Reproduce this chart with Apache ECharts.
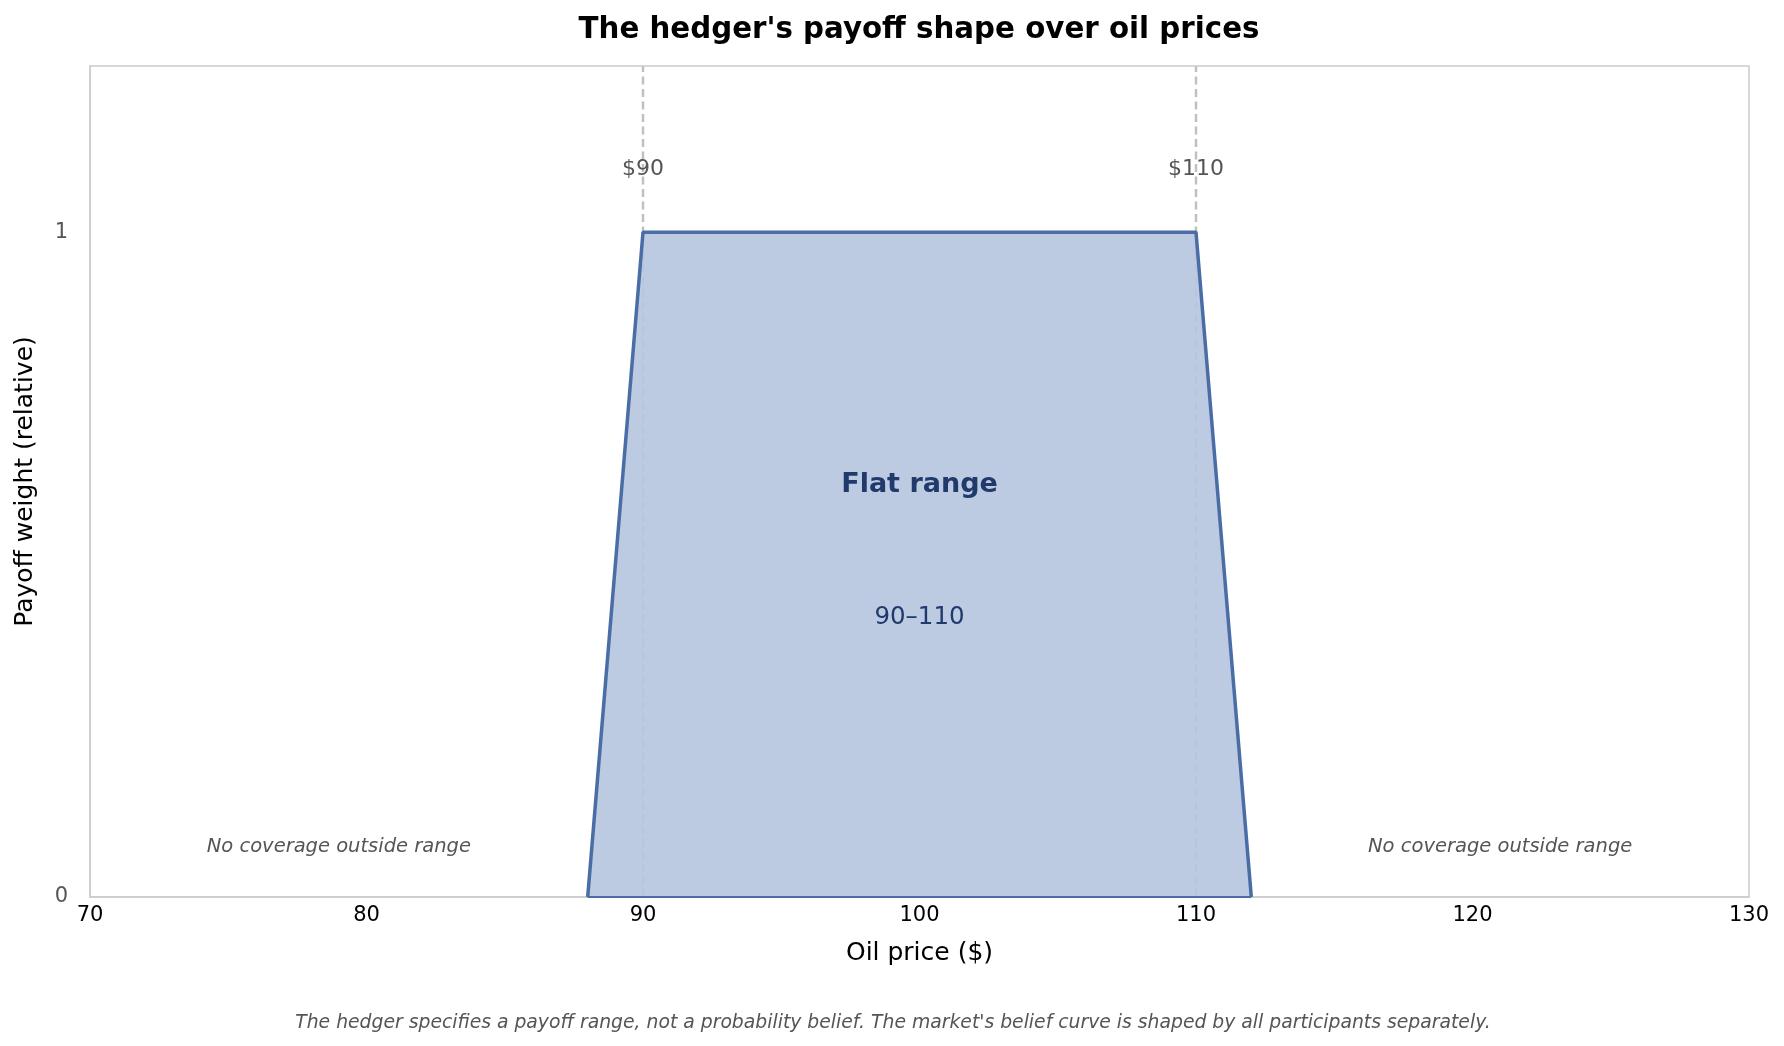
<!DOCTYPE html>
<html>
<head>
<meta charset="utf-8">
<script src="https://cdn.jsdelivr.net/npm/echarts@6/dist/echarts.min.js"></script>
<style>
html,body{margin:0;padding:0;background:#fff;}
#c{width:1784px;height:1046px;}
</style>
</head>
<body>
<div id="c"></div>
<script>
// Data
const payoffX = [88, 90, 110, 112];
const payoffY = [0, 1, 1, 0];
const boundaries = [90, 110];
const boundaryLabels = ['$90', '$110'];
const xTicks = [70, 80, 90, 100, 110, 120, 130];
const yTicks = [0, 1];
const noCoverX = [79, 121];
const noCoverY = 0.075;
const boundaryLabelY = 1.095;

const F = 'DejaVu Sans';
const payoffData = payoffX.map((x, i) => [x, payoffY[i]]);
const bottomEdge = [[payoffX[0], 0], [payoffX[payoffX.length - 1], 0]];

const chart = echarts.init(document.getElementById('c'), null, {renderer: 'canvas'});

const dashSeries = boundaries.map(b => ({
  type: 'line',
  data: [[b, 0], [b, 1.25]],
  symbol: 'none',
  lineStyle: {color: '#c0c0c0', width: 2.5, type: [8, 4.5]},
  z: 1,
  silent: true
}));

const textSeries = {
  type: 'scatter',
  symbolSize: 0,
  silent: true,
  z: 5,
  itemStyle: {opacity: 1},
  emphasis: {disabled: true},
  data: [
    {value: [boundaries[0], boundaryLabelY], label: {formatter: boundaryLabels[0], color: '#555', fontSize: 22, fontFamily: F}},
    {value: [boundaries[1], boundaryLabelY], label: {formatter: boundaryLabels[1], color: '#555', fontSize: 22, fontFamily: F}},
    {value: [100, 0.62], label: {formatter: 'Flat range', color: '#1f3a6b', fontSize: 27, fontWeight: 'bold', fontFamily: F}},
    {value: [100, 0.42], label: {formatter: '90–110', color: '#1f3a6b', fontSize: 24.5, fontFamily: F}},
    {value: [noCoverX[0], noCoverY], label: {formatter: 'No coverage outside range', color: '#555', fontSize: 19.5, fontStyle: 'italic', fontFamily: F}},
    {value: [noCoverX[1], noCoverY], label: {formatter: 'No coverage outside range', color: '#555', fontSize: 19.5, fontStyle: 'italic', fontFamily: F}}
  ],
  label: {show: true, position: 'inside', align: 'center', verticalAlign: 'middle'}
};

chart.setOption({
  animation: false,
  backgroundColor: '#fff',
  title: [
    {text: "The hedger's payoff shape over oil prices", left: 914, top: 11, textAlign: 'center',
     textStyle: {fontFamily: F, fontSize: 29.3, fontWeight: 'bold', color: '#000'}},
    {text: "The hedger specifies a payoff range, not a probability belief. The market's belief curve is shaped by all participants separately.",
     left: 888, top: 1009, textAlign: 'center',
     textStyle: {fontFamily: F, fontSize: 18.8, fontStyle: 'italic', fontWeight: 'normal', color: '#555'}}
  ],
  grid: {left: 90, right: 35, top: 66, bottom: 149, show: true, borderColor: '#cccccc', borderWidth: 1.5, backgroundColor: 'transparent'},
  xAxis: {
    type: 'value', min: 70, max: 130, interval: 10,
    name: 'Oil price ($)', nameLocation: 'middle', nameGap: 44,
    nameTextStyle: {fontFamily: F, fontSize: 25, color: '#000'},
    axisLine: {show: true, lineStyle: {color: '#cccccc', width: 1.5}},
    axisTick: {show: false},
    splitLine: {show: false},
    axisLabel: {fontFamily: F, fontSize: 21, color: '#000', margin: 8,
      formatter: v => xTicks.includes(v) ? String(v) : ''}
  },
  yAxis: {
    type: 'value', min: 0, max: 1.25, interval: 1,
    name: 'Payoff weight (relative)', nameLocation: 'middle', nameGap: 52,
    nameTextStyle: {fontFamily: F, fontSize: 25, color: '#000'},
    axisLine: {show: true, lineStyle: {color: '#cccccc', width: 1.5}},
    axisTick: {show: false},
    splitLine: {show: false},
    axisLabel: {fontFamily: F, fontSize: 21, color: '#555', margin: 22, showMaxLabel: false, padding: [10, 0, 0, 0],
      formatter: v => yTicks.includes(v) ? String(v) : ''}
  },
  series: [
    ...dashSeries,
    {
      type: 'line',
      data: payoffData,
      symbol: 'none',
      lineStyle: {color: '#4a6da5', width: 3.5},
      areaStyle: {color: 'rgb(182,198,223)', opacity: 0.92, origin: 0},
      z: 3
    },
    {
      type: 'line',
      data: bottomEdge,
      symbol: 'none',
      lineStyle: {color: '#4a6da5', width: 1.8},
      z: 3
    },
    textSeries
  ]
});
</script>
</body>
</html>
